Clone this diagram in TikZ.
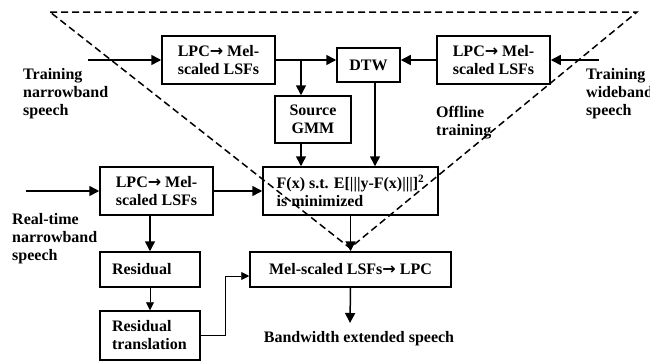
\documentclass[tikz,border=0pt]{standalone}
\usepackage{fontspec}
\setmainfont{Liberation Serif}
\newfontfamily\arrowfont{DejaVu Sans}
\newcommand{\rarr}{{\arrowfont\bfseries →}}
\usetikzlibrary{arrows.meta}
\begin{document}
\begin{tikzpicture}[x=1pt,y=-1pt,
  txt/.style={font=\bfseries\fontsize{16}{18}\selectfont},
  box/.style={txt,draw,line width=1.5pt,inner sep=0pt,align=center},
  lbox/.style={box,align=left,inner xsep=12pt,text width=76pt},
  lab/.style={txt,align=left,inner sep=0pt,anchor=north west},
  arr/.style={line width=1.5pt,-{Triangle[length=10pt,width=10pt]}},
  tarr/.style={line width=0.9pt,-{Triangle[length=8pt,width=8pt]}},
  dsh/.style={line width=1.5pt,dash pattern=on 7pt off 4pt}]
\useasboundingbox (0,0) rectangle (650,362);
% boxes
\node[box,minimum width=113pt,minimum height=48pt] (lpcA) at (218.5,60) {LPC\rarr\ Mel-\\scaled LSFs};
\node[box,minimum width=63pt,minimum height=34pt] (dtw) at (368.5,65) {DTW};
\node[box,minimum width=113pt,minimum height=48pt] (lpcB) at (493.5,60) {LPC\rarr\ Mel-\\scaled LSFs};
\node[box,minimum width=76pt,minimum height=47pt] (gmm) at (313,119.5) {Source\\GMM};
\node[box,align=left,minimum width=175pt,minimum height=48pt] (fbox) at (350.5,191) {F(x) s.t. E[|||y-F(x)|||]$^{\mathbf{2}}$\\is minimized};
\node[box,minimum width=113pt,minimum height=48pt] (lpcC) at (156.5,191) {LPC\rarr\ Mel-\\scaled LSFs};
\node[lbox,minimum height=35pt] (resid) at (150,269.5) {Residual};
\node[lbox,minimum height=49pt] (restr) at (150,335.5) {Residual\\translation};
\node[box,minimum width=201pt,minimum height=35pt] (mel) at (350.5,269.5) {Mel-scaled LSFs\rarr\ LPC};
% labels
\node[lab] (l1) at (23,68) {Training\\narrowband\\speech};
\node[lab] (l2) at (586,68) {Training\\wideband\\speech};
\node[lab] (l3) at (436,106) {Offline\\training};
\node[lab] (l4) at (12,213) {Real-time\\narrowband\\speech};
\node[txt,inner sep=0pt,anchor=north] (l5) at (359,331) {Bandwidth extended speech};
% dashed triangle
\coordinate (t1) at (50,12);
\coordinate (t2) at (637,12);
\coordinate (t3) at (350,248);
\draw[dsh] (t1) -- (t2) -- (t3) -- cycle;
% connectors
\coordinate (inA) at (88,60);
\coordinate (inB) at (599,60);
\coordinate (inC) at (26,191);
\coordinate (br) at (301,60);
\coordinate (out) at (350,323);
\coordinate (k) at (225,276);
\draw[arr] (inA) -- (lpcA.west);
\draw[arr] (lpcA.east) -- (lpcA.east -| dtw.west);
\draw[arr] (br) -- (br |- gmm.north);
\draw[arr] (inB) -- (lpcB.east);
\draw[arr] (lpcB.west) -- (lpcB.west -| dtw.east);
\draw[arr] ([xshift=6.5pt]dtw.south) -- ([xshift=6.5pt]dtw.south |- fbox.north);
\draw[arr] ([xshift=-12pt]gmm.south) -- ([xshift=-12pt]gmm.south |- fbox.north);
\draw[arr] (inC) -- (lpcC.west);
\draw[arr] (lpcC.east) -- (fbox.west);
\draw[arr] (lpcC.south -| resid.north) -- (resid.north);
\draw[tarr] (resid.south) -- (restr.north);
\draw[tarr] (restr.east) -| (k) -- (k -| mel.west);
\draw[arr] (fbox.south) -- (mel.north);
\draw[arr] (mel.south) -- (out);
\end{tikzpicture}
\end{document}
